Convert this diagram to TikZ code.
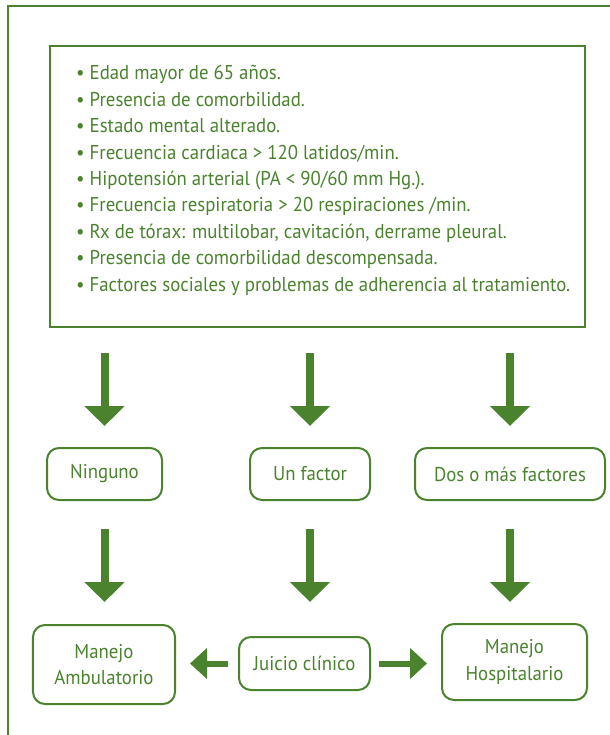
\documentclass[tikz,border=0pt]{standalone}
\usepackage{fontspec}
\setmainfont{PT Sans}[FakeStretch=0.94]
\usetikzlibrary{arrows.meta}
\definecolor{verde}{RGB}{74,130,46}

\begin{document}
\begin{tikzpicture}[x=1bp,y=-1bp]
\tikzstyle{every node}+=[text=verde,font=\fontsize{20bp}{26.4bp}\selectfont]
\tikzstyle{caja}=[draw=verde,line width=2bp,rounded corners=12bp,align=center,inner sep=0pt]
\tikzstyle{flecha}=[verde,line width=8bp,-{Triangle[length=20bp,width=39bp]}]
\tikzstyle{flechita}=[verde,line width=6bp,-{Triangle[length=17bp,width=30bp]}]
\useasboundingbox (0,0) rectangle (610,735);
% marco exterior
\draw [verde, line width=2bp] (8,735) -- (8,6) -- (610,6);
% criterios
\node [draw=verde, line width=2bp, minimum width=535bp, minimum height=281bp] (crit) at (317.5,186.5) {};
\node [align=left, anchor=north west, inner sep=0pt] (lista) at (76,65.5) {%
\textbullet\ Edad mayor de 65 años.\\
\textbullet\ Presencia de comorbilidad.\\
\textbullet\ Estado mental alterado.\\
\textbullet\ Frecuencia cardiaca > 120 latidos/min.\\
\textbullet\ Hipotensión arterial (PA < 90/60 mm Hg.).\\
\textbullet\ Frecuencia respiratoria > 20 respiraciones /min.\\
\textbullet\ Rx de tórax: multilobar, cavitación, derrame pleural.\\
\textbullet\ Presencia de comorbilidad descompensada.\\
\textbullet\ Factores sociales y problemas de adherencia al tratamiento.};
% numero de factores
\node [caja, minimum width=115bp, minimum height=52bp] (ning) at (104.5,474) {Ninguno};
\node [caja, minimum width=120bp, minimum height=52bp] (uno) at (310,474) {Un factor};
\node [caja, minimum width=190bp, minimum height=52bp] (dos) at (510,474) {Dos o más factores};
% manejo
\node [caja, minimum width=142bp, minimum height=79bp] (amb) at (104,664.5) {Manejo\\Ambulatorio};
\node [caja, minimum width=131bp, minimum height=53bp] (juicio) at (304.5,663.5) {Juicio clínico};
\node [caja, minimum width=145bp, minimum height=76bp] (hosp) at (514.5,662) {Manejo\\Hospitalario};
% flechas
\draw [flecha, shorten <=25bp, shorten >=21bp] (crit.south -| ning.north) -- (ning.north);
\draw [flecha, shorten <=25bp, shorten >=21bp] (crit.south -| uno.north) -- (uno.north);
\draw [flecha, shorten <=25bp, shorten >=21bp] (crit.south -| dos.north) -- (dos.north);
\draw [flecha, shorten <=28bp, shorten >=22bp] (ning.south) -- (ning.south |- amb.north);
\draw [flecha, shorten <=28bp, shorten >=34bp] (uno.south) -- (uno.south |- juicio.north);
\draw [flecha, shorten <=28bp, shorten >=21bp] (dos.south) -- (dos.south |- hosp.north);
\draw [flechita, shorten <=10bp, shorten >=14bp] (juicio.west) -- (juicio.west -| amb.east);
\draw [flechita, shorten <=8bp, shorten >=14bp] (juicio.east) -- (juicio.east -| hosp.west);
\end{tikzpicture}
\end{document}
